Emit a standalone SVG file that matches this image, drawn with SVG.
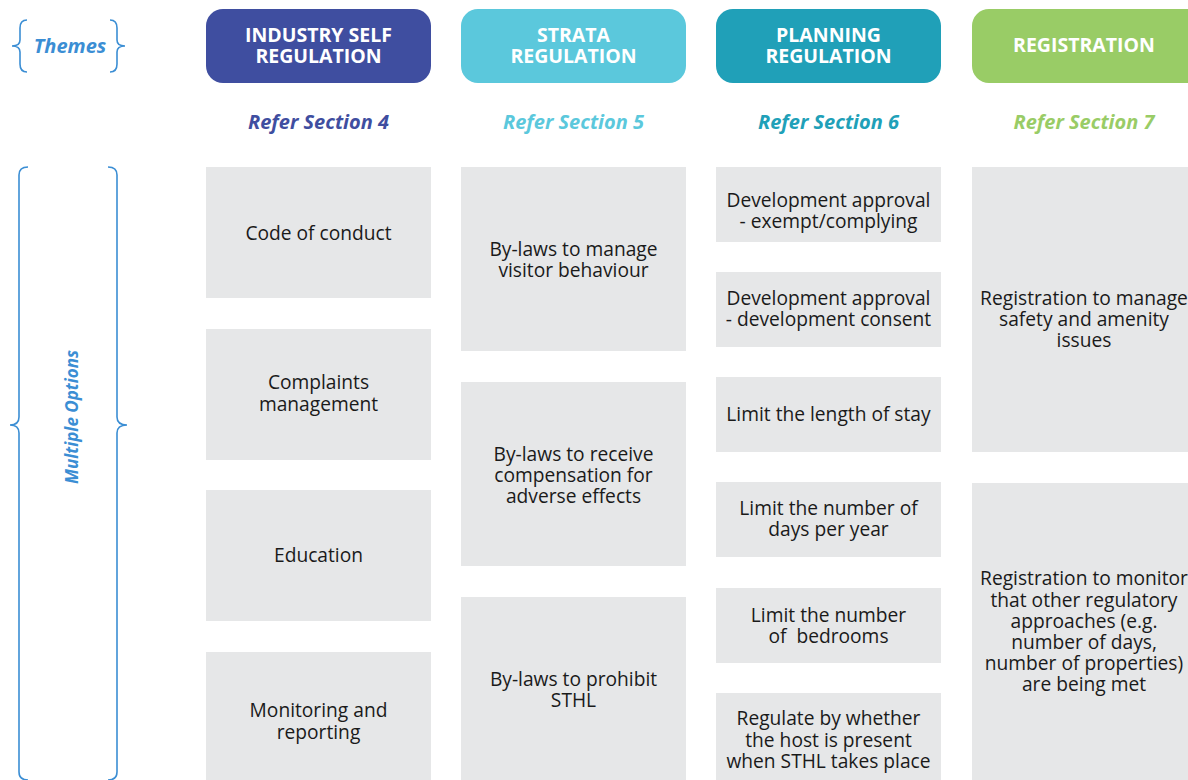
<svg xmlns="http://www.w3.org/2000/svg" width="1188" height="780" viewBox="0 0 1188 780">
<style>
.box{fill:#e6e7e8}
.t{font-family:"Open Sans","Liberation Sans",sans-serif;font-size:19.2px;fill:#1a1a1a;text-anchor:middle}
.h{font-family:"Open Sans","Liberation Sans",sans-serif;font-size:19.5px;font-weight:bold;fill:#fff;text-anchor:middle}
.r{font-family:"Open Sans","Liberation Sans",sans-serif;font-size:20px;font-weight:bold;font-style:italic;text-anchor:middle}
.brace{fill:none;stroke:#3b8ed4;stroke-width:1.6}
.lab{font-family:"Open Sans","Liberation Sans",sans-serif;font-weight:bold;font-style:italic;fill:#3b8ed4;text-anchor:middle}
</style>
<rect width="1188" height="780" fill="#fff"/>
<g id="themes">
<path class="brace" d="M27,20 Q20,20 20,28 L20,40 Q20,46 12,46 Q20,46 20,52 L20,64 Q20,72 27,72"/>
<path class="brace" d="M110,20 Q117,20 117,28 L117,40 Q117,46 125,46 Q117,46 117,52 L117,64 Q117,72 110,72"/>
<text class="lab" x="70" y="53" font-size="20">Themes</text>
</g>
<g id="multiple-options">
<path class="brace" d="M28,167 Q19,167 19,175 L19,417 Q19,425 10,425 Q19,425 19,433 L19,772 Q19,780 28,780"/>
<path class="brace" d="M108,167 Q117,167 117,175 L117,417 Q117,425 127,425 Q117,425 117,433 L117,772 Q117,780 108,780"/>
<text class="lab" font-size="17" transform="translate(78,417) rotate(-90)">Multiple Options</text>
</g>
<g id="hdr-industry">
<rect x="206" y="9" width="225" height="74" rx="17" fill="#3f4ea0"/>
<text class="h" x="318.5" y="42">INDUSTRY SELF</text>
<text class="h" x="318.5" y="63">REGULATION</text>
<text class="r" x="318.5" y="129" fill="#3f4ea0">Refer Section 4</text>
</g>
<g id="hdr-strata">
<rect x="461" y="9" width="225" height="74" rx="17" fill="#5bc8dc"/>
<text class="h" x="573.5" y="42">STRATA</text>
<text class="h" x="573.5" y="63">REGULATION</text>
<text class="r" x="573.5" y="129" fill="#5bc8dc">Refer Section 5</text>
</g>
<g id="hdr-planning">
<rect x="716" y="9" width="225" height="74" rx="17" fill="#20a0b8"/>
<text class="h" x="828.5" y="42">PLANNING</text>
<text class="h" x="828.5" y="63">REGULATION</text>
<text class="r" x="828.5" y="129" fill="#20a0b8">Refer Section 6</text>
</g>
<g id="hdr-registration">
<rect x="972" y="9" width="240" height="74" rx="17" fill="#99cc66"/>
<text class="h" x="1084" y="52">REGISTRATION</text>
<text class="r" x="1084" y="129" fill="#99cc66">Refer Section 7</text>
</g>
<g id="n-code"><rect class="box" x="206" y="167" width="225" height="131"/><text class="t" x="318.5" y="240">Code of conduct</text></g>
<g id="n-complaints"><rect class="box" x="206" y="329" width="225" height="131"/><text class="t" x="318.5" y="389">Complaints</text><text class="t" x="318.5" y="411">management</text></g>
<g id="n-education"><rect class="box" x="206" y="490" width="225" height="131"/><text class="t" x="318.5" y="562">Education</text></g>
<g id="n-monitoring"><rect class="box" x="206" y="652" width="225" height="128"/><text class="t" x="318.5" y="717">Monitoring and</text><text class="t" x="318.5" y="739">reporting</text></g>
<g id="n-visitor"><rect class="box" x="461" y="167" width="225" height="184"/><text class="t" x="573.5" y="256">By-laws to manage</text><text class="t" x="573.5" y="277">visitor behaviour</text></g>
<g id="n-compensation"><rect class="box" x="461" y="382" width="225" height="184"/><text class="t" x="573.5" y="461">By-laws to receive</text><text class="t" x="573.5" y="482">compensation for</text><text class="t" x="573.5" y="503">adverse effects</text></g>
<g id="n-prohibit"><rect class="box" x="461" y="597" width="225" height="183"/><text class="t" x="573.5" y="686">By-laws to prohibit</text><text class="t" x="573.5" y="707">STHL</text></g>
<g id="n-exempt"><rect class="box" x="716" y="167" width="225" height="75"/><text class="t" x="828.5" y="207">Development approval</text><text class="t" x="828.5" y="228">- exempt/complying</text></g>
<g id="n-consent"><rect class="box" x="716" y="272" width="225" height="75"/><text class="t" x="828.5" y="305">Development approval</text><text class="t" x="828.5" y="326">- development consent</text></g>
<g id="n-length"><rect class="box" x="716" y="377" width="225" height="75"/><text class="t" x="828.5" y="421">Limit the length of stay</text></g>
<g id="n-days"><rect class="box" x="716" y="482" width="225" height="75"/><text class="t" x="828.5" y="515">Limit the number of</text><text class="t" x="828.5" y="536">days per year</text></g>
<g id="n-bedrooms"><rect class="box" x="716" y="588" width="225" height="75"/><text class="t" x="828.5" y="622">Limit the number</text><text class="t" x="828.5" y="643" xml:space="preserve">of  bedrooms</text></g>
<g id="n-host"><rect class="box" x="716" y="693" width="225" height="87"/><text class="t" x="828.5" y="725">Regulate by whether</text><text class="t" x="828.5" y="747">the host is present</text><text class="t" x="828.5" y="768">when STHL takes place</text></g>
<g id="n-reg-safety"><rect class="box" x="972" y="167" width="216" height="285"/><text class="t" x="1084" y="305">Registration to manage</text><text class="t" x="1084" y="326">safety and amenity</text><text class="t" x="1084" y="347">issues</text></g>
<g id="n-reg-monitor"><rect class="box" x="972" y="483" width="216" height="297"/><text class="t" x="1084" y="585">Registration to monitor</text><text class="t" x="1084" y="607">that other regulatory</text><text class="t" x="1084" y="628">approaches (e.g.</text><text class="t" x="1084" y="649">number of days,</text><text class="t" x="1084" y="670">number of properties)</text><text class="t" x="1084" y="691">are being met</text></g>
<g id="connectors"></g>
</svg>
